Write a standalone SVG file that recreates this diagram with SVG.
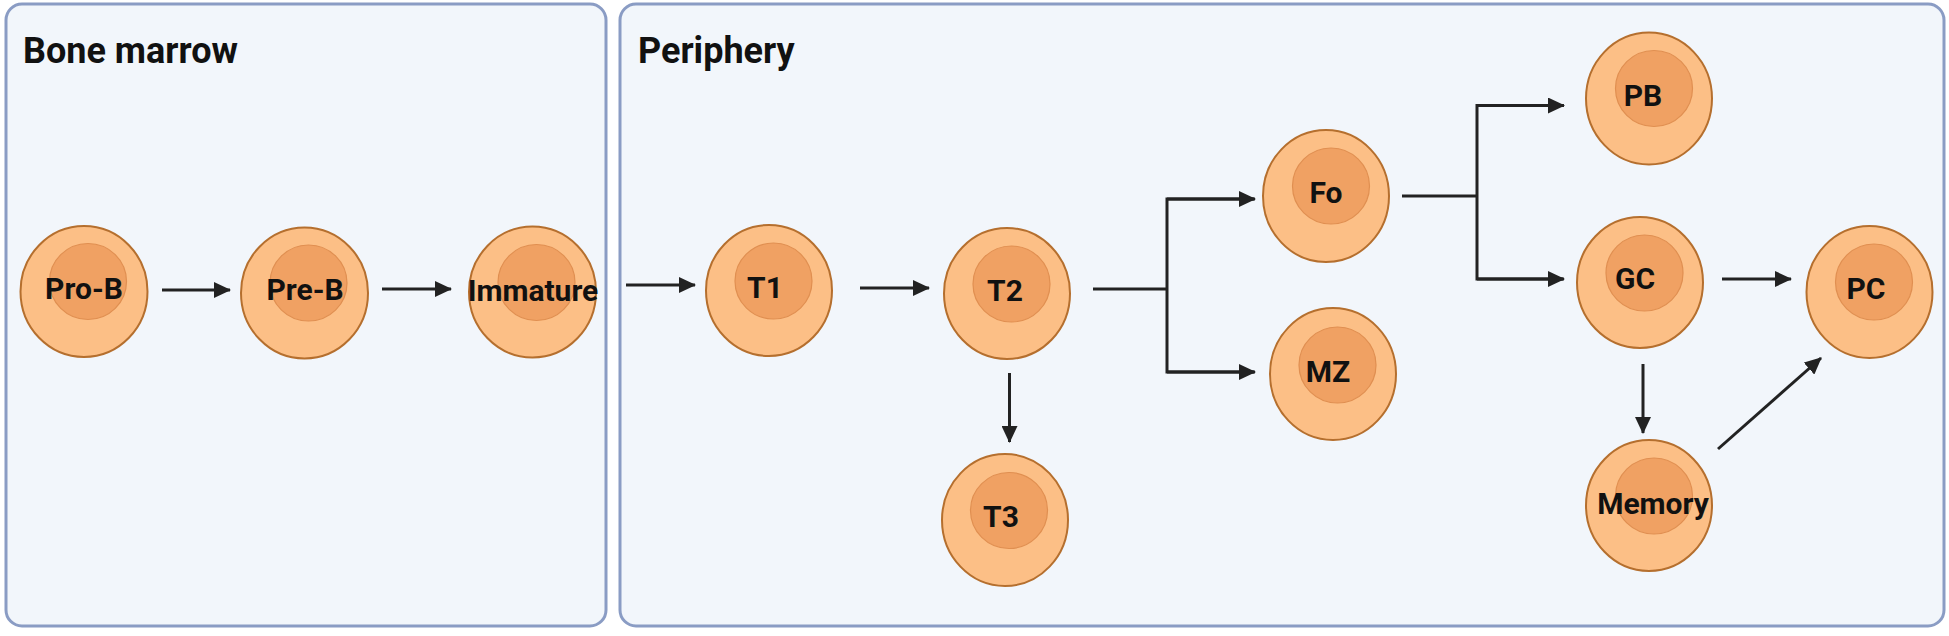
<svg xmlns="http://www.w3.org/2000/svg" width="1949" height="636" viewBox="0 0 1949 636">
<style>
.panel{fill:#F2F6FB;stroke:#8A9CC4;stroke-width:3}
.title{font-family:Roboto,"Liberation Sans",sans-serif;font-weight:bold;font-size:36px;fill:#111}
.outer{fill:#FCBF86;stroke:#B56F2E;stroke-width:2}
.inner{fill:#F0A163;stroke:#E08F51;stroke-width:1.2}
.lbl{font-family:Roboto,"Liberation Sans",sans-serif;font-weight:bold;font-size:30px;fill:#111;text-anchor:middle}
.conn{fill:none;stroke:#222;stroke-width:3}
</style>
<defs>
<marker id="ah" markerUnits="userSpaceOnUse" markerWidth="17" markerHeight="16" refX="16" refY="8" orient="auto" viewBox="0 0 17 16">
<path d="M0,0 L17,8 L0,16 z" fill="#222"/>
</marker>
</defs>
<rect width="1949" height="636" fill="#ffffff"/>
<g id="panel-bone-marrow">
<rect class="panel" x="6" y="4" width="600" height="622" rx="16"/>
<text class="title" x="23" y="63">Bone marrow</text>
</g>
<g id="panel-periphery">
<rect class="panel" x="620" y="4" width="1324" height="622" rx="16"/>
<text class="title" x="638" y="63">Periphery</text>
</g>
<g id="connectors">
<line class="conn" x1="162" y1="290" x2="230" y2="290" marker-end="url(#ah)"/>
<line class="conn" x1="382" y1="289" x2="451" y2="289" marker-end="url(#ah)"/>
<line class="conn" x1="626" y1="285" x2="695" y2="285" marker-end="url(#ah)"/>
<line class="conn" x1="860" y1="288" x2="929" y2="288" marker-end="url(#ah)"/>
<line class="conn" x1="1009.5" y1="373" x2="1009.5" y2="442" marker-end="url(#ah)"/>
<path class="conn" d="M1093,289 H1167"/>
<path class="conn" d="M1254,199 H1167 V372 H1254"/>
<line class="conn" x1="1167" y1="199" x2="1255" y2="199" marker-end="url(#ah)"/>
<line class="conn" x1="1167" y1="372" x2="1255" y2="372" marker-end="url(#ah)"/>
<path class="conn" d="M1402,196 H1477"/>
<path class="conn" d="M1563,105.5 H1477 V279 H1563"/>
<line class="conn" x1="1477" y1="105.5" x2="1564" y2="105.5" marker-end="url(#ah)"/>
<line class="conn" x1="1477" y1="279" x2="1564" y2="279" marker-end="url(#ah)"/>
<line class="conn" x1="1722" y1="279" x2="1791" y2="279" marker-end="url(#ah)"/>
<line class="conn" x1="1643" y1="364" x2="1643" y2="433" marker-end="url(#ah)"/>
<line class="conn" x1="1718" y1="449" x2="1821" y2="358" marker-end="url(#ah)"/>
</g>
<g id="node-pro-b">
<ellipse class="outer" cx="84" cy="291.5" rx="63.5" ry="65.5"/>
<ellipse class="inner" cx="88" cy="281.5" rx="38.5" ry="38"/>
<text class="lbl" x="84" y="299">Pro-B</text>
</g>
<g id="node-pre-b">
<ellipse class="outer" cx="304.5" cy="293" rx="63.5" ry="65.5"/>
<ellipse class="inner" cx="308.5" cy="283" rx="38.5" ry="38"/>
<text class="lbl" x="305" y="300">Pre-B</text>
</g>
<g id="node-immature">
<ellipse class="outer" cx="532.5" cy="292" rx="63.5" ry="65.5"/>
<ellipse class="inner" cx="536.5" cy="282.5" rx="38.5" ry="38"/>
<text class="lbl" x="533" y="301">Immature</text>
</g>
<g id="node-t1">
<ellipse class="outer" cx="769" cy="290.5" rx="63" ry="65.5"/>
<ellipse class="inner" cx="773.5" cy="281" rx="38.5" ry="38"/>
<text class="lbl" x="765" y="298">T1</text>
</g>
<g id="node-t2">
<ellipse class="outer" cx="1007" cy="293.5" rx="63" ry="65.5"/>
<ellipse class="inner" cx="1011.5" cy="284" rx="38.5" ry="38"/>
<text class="lbl" x="1005" y="301">T2</text>
</g>
<g id="node-t3">
<ellipse class="outer" cx="1005" cy="520" rx="63" ry="66"/>
<ellipse class="inner" cx="1009" cy="510.5" rx="38.5" ry="38"/>
<text class="lbl" x="1001" y="527">T3</text>
</g>
<g id="node-fo">
<ellipse class="outer" cx="1326" cy="196" rx="63" ry="66"/>
<ellipse class="inner" cx="1331" cy="186" rx="38.5" ry="38"/>
<text class="lbl" x="1326" y="203">Fo</text>
</g>
<g id="node-mz">
<ellipse class="outer" cx="1333" cy="374" rx="63" ry="66"/>
<ellipse class="inner" cx="1337.5" cy="365" rx="38.5" ry="38"/>
<text class="lbl" x="1328" y="382">MZ</text>
</g>
<g id="node-pb">
<ellipse class="outer" cx="1649" cy="98.5" rx="63" ry="66"/>
<ellipse class="inner" cx="1654" cy="88.5" rx="38.5" ry="38"/>
<text class="lbl" x="1643" y="106">PB</text>
</g>
<g id="node-gc">
<ellipse class="outer" cx="1640" cy="282.5" rx="63" ry="65.5"/>
<ellipse class="inner" cx="1644.5" cy="273" rx="38.5" ry="38"/>
<text class="lbl" x="1635" y="289">GC</text>
</g>
<g id="node-pc">
<ellipse class="outer" cx="1869.5" cy="292" rx="63" ry="66"/>
<ellipse class="inner" cx="1874" cy="282" rx="38.5" ry="38"/>
<text class="lbl" x="1866" y="299">PC</text>
</g>
<g id="node-memory">
<ellipse class="outer" cx="1649" cy="505.5" rx="63" ry="65.5"/>
<ellipse class="inner" cx="1654" cy="496" rx="38.5" ry="38"/>
<text class="lbl" x="1653" y="514">Memory</text>
</g>
</svg>
